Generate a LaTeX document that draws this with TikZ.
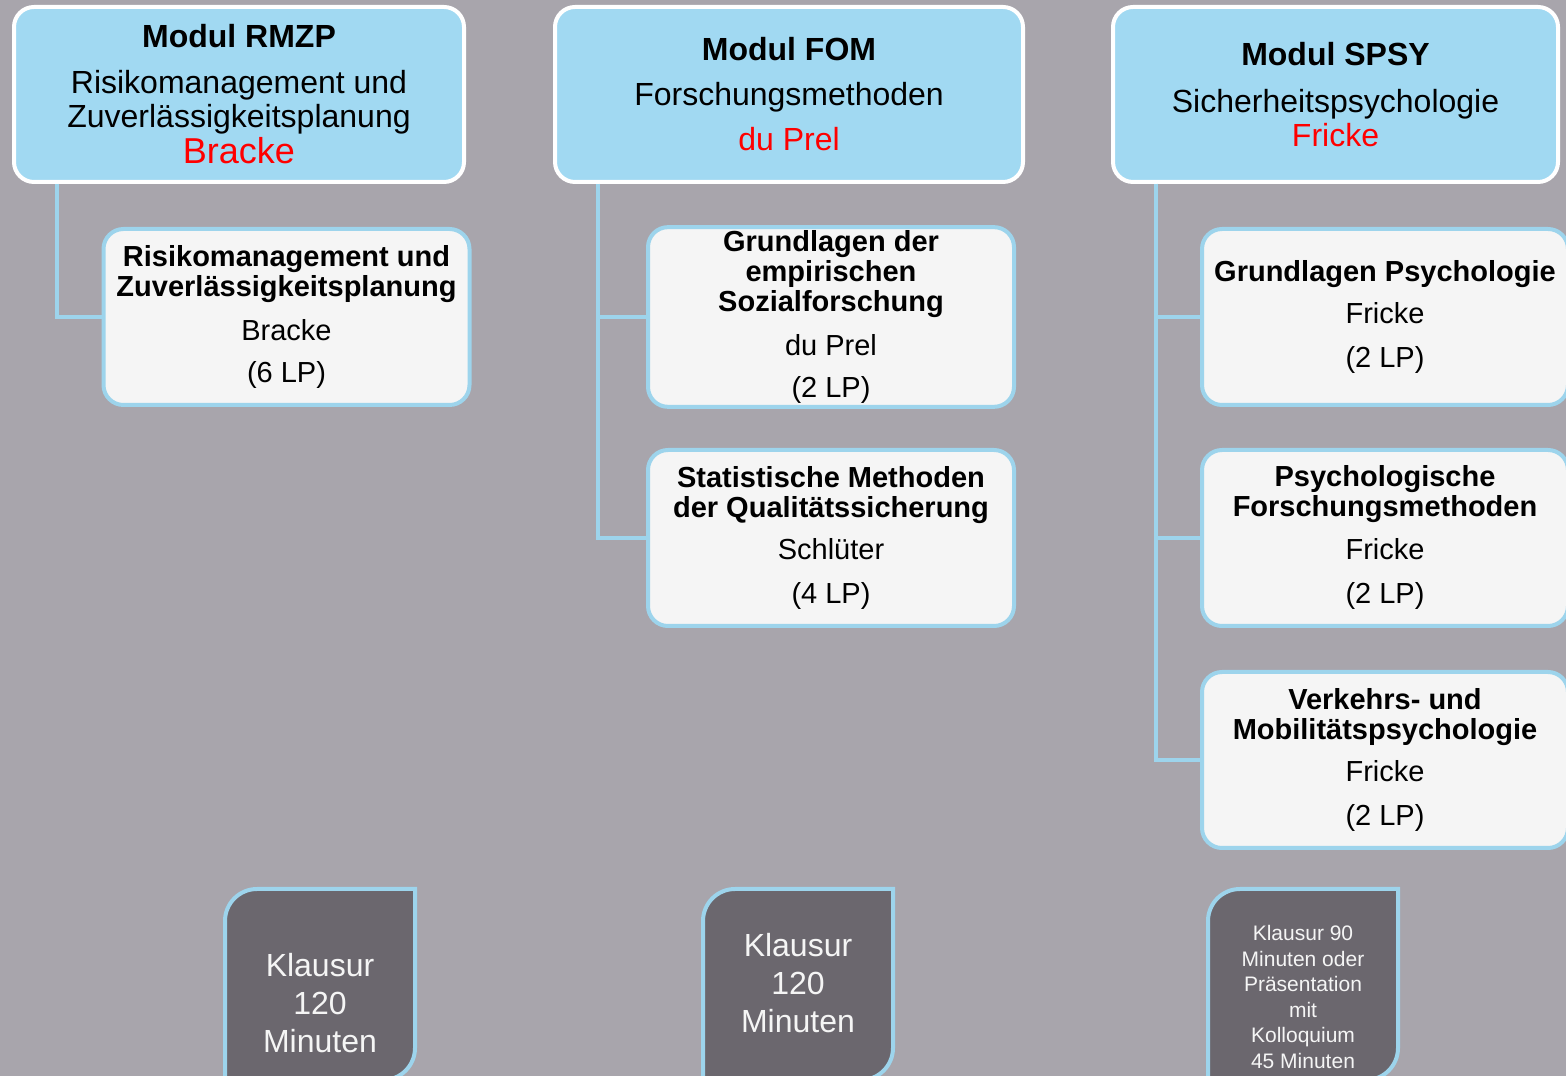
\documentclass[tikz,border=0pt]{standalone}
\usepackage{fontspec}
\setmainfont{Liberation Sans}
\usepackage{xcolor}
\usepackage{tikz}
\usetikzlibrary{calc}
\definecolor{bggray}{HTML}{A8A5AC}
\definecolor{hdrblue}{HTML}{A1D9F2}
\definecolor{subfill}{HTML}{F5F5F5}
\definecolor{lineblue}{HTML}{9DD4EC}
\definecolor{examfill}{HTML}{6B676E}

\begin{document}
\begin{tikzpicture}[x=1pt,y=1pt,
 modul/.style={draw=white,line width=4pt,fill=hdrblue,rounded corners=20pt,minimum height=175pt,align=center,font=\fontsize{32}{34}\selectfont},
 fach/.style={draw=lineblue,line width=4pt,fill=subfill,rounded corners=20pt,minimum width=366pt,minimum height=176pt,align=center,font=\fontsize{29}{30}\selectfont},
 link/.style={draw=lineblue,line width=4pt},
 pruef/.style={draw=lineblue,line width=4pt,fill=examfill},
 pruefText/.style={text=subfill,align=center}]
\useasboundingbox (0,0) rectangle (1566,1076);
\clip (0,0) rectangle (1566,1076);
\fill[bggray] (0,0) rectangle (1566,1076);

\node[modul,minimum width=450pt] (rmzp) at (239,981.5) {\textbf{Modul RMZP}\\[12pt]Risikomanagement und\\Zuverlässigkeitsplanung\\[2pt]{\color{red}\fontsize{36}{34}\selectfont Bracke}};
\node[modul,minimum width=468pt] (fom) at (789,981.5) {\textbf{Modul FOM}\\[11pt]Forschungsmethoden\\[11pt]{\color{red}du Prel}};
\node[modul,minimum width=445pt] (spsy) at (1335.5,981.5) {\textbf{Modul SPSY}\\[13pt]Sicherheitspsychologie\\{\color{red}Fricke}};

\node[fach] (rmzpA) at (286.5,759) {\textbf{Risikomanagement und}\\\textbf{Zuverlässigkeitsplanung}\\[14pt]Bracke\\[12pt](6 LP)};
\node[fach] (fomA) at (831,759) {\textbf{Grundlagen der}\\\textbf{empirischen}\\\textbf{Sozialforschung}\\[14pt]du Prel\\[12pt](2 LP)};
\node[fach] (fomB) at (831,538) {\textbf{Statistische Methoden}\\\textbf{der Qualitätssicherung}\\[12pt]Schlüter\\[14pt](4 LP)};
\node[fach] (spsyA) at (1385,759) {\textbf{Grundlagen Psychologie}\\[12pt]Fricke\\[14pt](2 LP)};
\node[fach] (spsyB) at (1385,538) {\textbf{Psychologische}\\\textbf{Forschungsmethoden}\\[13pt]Fricke\\[14pt](2 LP)};
\node[fach] (spsyC) at (1385,316) {\textbf{Verkehrs- und}\\\textbf{Mobilitätspsychologie}\\[12pt]Fricke\\[14pt](2 LP)};

\draw[link] ([xshift=45pt]rmzp.south west) |- (rmzpA.west);
\foreach \sub in {fomA,fomB}
 \draw[link] ([xshift=45pt]fom.south west) |- (\sub.west);
\foreach \sub in {spsyA,spsyB,spsyC}
 \draw[link] ([xshift=45pt]spsy.south west) |- (\sub.west);

% Pruefungsform
\foreach \x in {225,703,1208}{
 \draw[pruef] (\x,-4) -- (\x,155) arc[start angle=180,end angle=90,radius=32] -- (\x+190,187) -- (\x+190,28) arc[start angle=0,end angle=-90,radius=32] -- cycle;
 }
\node[pruefText,font=\fontsize{32}{38}\selectfont] (rmzpK) at (320,72.5) {Klausur\\120\\Minuten};
\node[pruefText,font=\fontsize{32}{38}\selectfont] (fomK) at (798,92.5) {Klausur\\120\\Minuten};
\node[pruefText,font=\fontsize{21}{25.5}\selectfont] (spsyK) at (1303,79) {Klausur 90\\Minuten oder\\Präsentation\\mit\\Kolloquium\\45 Minuten};
\end{tikzpicture}
\end{document}
